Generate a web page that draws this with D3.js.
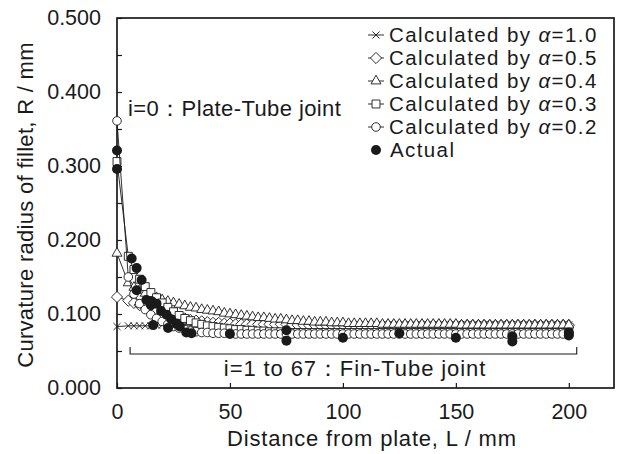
<!DOCTYPE html>
<html><head><meta charset="utf-8">
<script src="https://cdn.jsdelivr.net/npm/d3@7"></script>
<style>
body{margin:0;background:#fff}
svg{display:block}
text{font-family:"Liberation Sans",Arial,Helvetica,sans-serif;fill:#1a1a1a}
</style>
</head><body>
<svg id="chart" width="617" height="454"></svg>
<script>
// Distance from plate L (mm): i=0 plate joint, then fin joints
const distances = [0,
  5,7.5,10,12.5,15,17.5,20,22.5,25,27.5,30,32.5,35,37.5,40,42.5,45,47.5,50,
  52.5,55,57.5,60,62.5,65,67.5,70,72.5,75,77.5,80,82.5,85,87.5,90,92.5,95,97.5,100,
  102.5,105,107.5,110,112.5,115,117.5,120,122.5,125,127.5,130,132.5,135,137.5,140,142.5,145,147.5,150,
  152.5,155,157.5,160,162.5,165,167.5,170,172.5,175,177.5,180,182.5,185,187.5,190,192.5,195,197.5,200];

const calcAlpha10 = [0.083,
  0.084,0.084,0.084,0.084,0.084,0.085,0.085,0.085,0.085,0.085,0.085,0.085,0.085,0.085,0.085,0.085,0.085,0.085,0.085,
  0.085,0.085,0.085,0.085,0.085,0.085,0.085,0.085,0.085,0.085,0.085,0.085,0.085,0.085,0.085,0.085,0.085,0.085,0.085,0.085,
  0.085,0.085,0.085,0.085,0.085,0.085,0.085,0.085,0.085,0.085,0.085,0.085,0.085,0.085,0.085,0.085,0.085,0.085,0.085,0.085,
  0.085,0.085,0.085,0.085,0.085,0.085,0.085,0.085,0.085,0.085,0.085,0.085,0.085,0.085,0.085,0.085,0.085,0.085,0.085,0.085];

const calcAlpha05 = [0.123,
  0.118,0.115,0.112,0.109,0.106,0.104,0.101,0.099,0.097,0.095,0.094,0.092,0.091,0.090,0.089,0.088,0.088,0.087,0.087,
  0.086,0.086,0.086,0.086,0.086,0.086,0.086,0.086,0.086,0.086,0.085,0.085,0.085,0.085,0.085,0.085,0.085,0.085,0.085,0.085,
  0.085,0.085,0.085,0.085,0.085,0.085,0.085,0.085,0.085,0.085,0.085,0.085,0.085,0.085,0.085,0.085,0.085,0.085,0.085,0.085,
  0.085,0.085,0.085,0.085,0.085,0.085,0.085,0.085,0.085,0.085,0.085,0.085,0.085,0.085,0.085,0.085,0.085,0.085,0.085,0.085];

const calcAlpha04 = [0.182,
  0.142,0.136,0.132,0.128,0.125,0.122,0.119,0.117,0.115,0.113,0.111,0.109,0.108,0.106,0.105,0.104,0.103,0.101,0.100,
  0.099,0.098,0.097,0.096,0.095,0.095,0.094,0.093,0.093,0.092,0.091,0.091,0.090,0.090,0.089,0.089,0.089,0.088,0.088,0.088,
  0.087,0.087,0.087,0.087,0.087,0.087,0.086,0.086,0.086,0.086,0.086,0.086,0.086,0.086,0.086,0.086,0.086,0.086,0.086,0.086,
  0.085,0.085,0.085,0.085,0.085,0.085,0.085,0.085,0.085,0.085,0.085,0.085,0.085,0.085,0.085,0.085,0.085,0.085,0.085,0.085];

const calcAlpha03 = [0.306,
  0.178,0.160,0.147,0.137,0.129,0.122,0.115,0.109,0.103,0.098,0.094,0.091,0.088,0.086,0.084,0.083,0.082,0.081,0.080,
  0.079,0.079,0.078,0.078,0.077,0.077,0.076,0.076,0.076,0.075,0.075,0.075,0.075,0.075,0.075,0.075,0.075,0.075,0.075,0.075,
  0.075,0.075,0.075,0.075,0.075,0.075,0.075,0.075,0.075,0.075,0.075,0.075,0.075,0.075,0.075,0.075,0.075,0.075,0.075,0.075,
  0.075,0.075,0.075,0.075,0.075,0.075,0.075,0.075,0.075,0.075,0.075,0.075,0.075,0.075,0.075,0.075,0.075,0.075,0.075,0.075];

const calcAlpha02 = [0.361,
  0.150,0.127,0.114,0.106,0.099,0.094,0.090,0.086,0.083,0.081,0.079,0.077,0.076,0.075,0.075,0.074,0.074,0.074,0.074,
  0.073,0.073,0.073,0.073,0.073,0.073,0.073,0.073,0.073,0.073,0.073,0.073,0.073,0.073,0.073,0.073,0.073,0.073,0.073,0.073,
  0.073,0.073,0.073,0.073,0.073,0.073,0.073,0.073,0.073,0.073,0.073,0.073,0.073,0.073,0.073,0.073,0.073,0.073,0.073,0.073,
  0.073,0.073,0.073,0.073,0.073,0.073,0.073,0.073,0.073,0.073,0.073,0.073,0.073,0.073,0.073,0.073,0.073,0.073,0.073,0.073];

// Actual measurements
const actualL = [0,0,6.5,8.7,10.9,8.7,13,15,17.5,15.5,19.5,22,24,26.3,27.8,22.6,16,30.7,33,50,75,75,100,125,150,175,175,200,200];
const actualR = [0.321,0.296,0.175,0.162,0.146,0.132,0.119,0.112,0.114,0.117,0.104,0.099,0.093,0.087,0.083,0.081,0.085,0.075,0.074,0.073,0.078,0.064,0.068,0.074,0.068,0.070,0.063,0.075,0.071];

const seriesNames = ["Calculated by α=1.0","Calculated by α=0.5","Calculated by α=0.4","Calculated by α=0.3","Calculated by α=0.2"];
const xTickValues = [0,50,100,150,200];
const yTickValues = [0,0.05,0.1,0.15,0.2,0.25,0.3,0.35,0.4,0.45,0.5];

const svg = d3.select("#chart");
const x = d3.scaleLinear().domain([0,220]).range([117,614]);
const y = d3.scaleLinear().domain([0,0.5]).range([388,18]);

// axes
const yAxis = d3.axisLeft(y).tickValues(yTickValues).tickSize(-5).tickPadding(16)
  .tickFormat(d => (Math.round(d*100) % 10 === 0) ? d3.format(".3f")(d) : "");
const gy = svg.append("g").attr("transform",`translate(${x(0)},0)`).call(yAxis);
const xAxis = d3.axisBottom(x).tickValues(xTickValues).tickSize(-5).tickPadding(16).tickFormat(d3.format("d"));
const gx = svg.append("g").attr("transform",`translate(0,${y(0)})`).call(xAxis);
[gx,gy].forEach(g=>{
  g.select(".domain").remove();
  g.selectAll(".tick line").attr("stroke","#1a1a1a").attr("stroke-width",1.2);
  g.selectAll(".tick text").attr("font-size",21.5).attr("fill","#1a1a1a")
    .style("font-family",'"Liberation Sans",Arial,sans-serif');
});

// frame
svg.append("rect").attr("x",x(0)).attr("y",y(0.5)).attr("width",x(220)-x(0)).attr("height",y(0)-y(0.5))
  .attr("fill","none").attr("stroke","#1a1a1a").attr("stroke-width",1.7);

// series
const symbols = [
  d3.symbol(d3.symbolTimes, 34),
  d3.symbol(d3.symbolDiamond2, 80),
  d3.symbol(d3.symbolTriangle2, 72),
  d3.symbol(d3.symbolSquare2, 80),
  d3.symbol(d3.symbolCircle, 58)
];
const calcSeries = [calcAlpha10, calcAlpha05, calcAlpha04, calcAlpha03, calcAlpha02];
const line = d3.line().x((d,i)=>x(distances[i])).y(d=>y(d));
calcSeries.forEach((vals,k)=>{
  const g = svg.append("g");
  g.append("path").attr("d", line(vals)).attr("fill","none").attr("stroke","#1a1a1a").attr("stroke-width",0.9);
  g.selectAll("path.m").data(vals).join("path").attr("class","m")
    .attr("transform",(d,i)=>`translate(${x(distances[i])},${y(d)})`)
    .attr("d", symbols[k]())
    .attr("fill","#fff").attr("stroke","#1a1a1a").attr("stroke-width",0.9);
});
svg.append("g").selectAll("circle").data(actualR).join("circle")
  .attr("cx",(d,i)=>x(actualL[i])).attr("cy",d=>y(d)).attr("r",5).attr("fill","#1a1a1a");

// legend
const legY = [35,58,81,104,127,150];
const legFont = 20.5, legSpacing = 1.4;
seriesNames.forEach((name,k)=>{
  const g = svg.append("g").attr("transform",`translate(376,${legY[k]})`);
  g.append("line").attr("x1",-8).attr("x2",8).attr("stroke","#1a1a1a").attr("stroke-width",0.9);
  g.append("path").attr("d",symbols[k]()).attr("fill","#fff").attr("stroke","#1a1a1a").attr("stroke-width",0.9);
  const t = g.append("text").attr("x",13).attr("dy","0.36em").attr("font-size",legFont).attr("letter-spacing",legSpacing);
  const parts = name.split("α");
  t.append("tspan").text(parts[0]);
  t.append("tspan").attr("font-style","italic").text("α");
  t.append("tspan").text(parts[1]);
});
{
  const g = svg.append("g").attr("transform",`translate(376,${legY[5]})`);
  g.append("circle").attr("r",5).attr("fill","#1a1a1a");
  g.append("text").attr("x",14).attr("dy","0.36em").attr("font-size",legFont).attr("letter-spacing",legSpacing).text("Actual");
}

// annotations
svg.append("text").attr("x",128).attr("y",116).attr("font-size",22).attr("letter-spacing",0.4).text("i=0：Plate-Tube joint");
const bx0 = x(5.8), bx1 = x(203.5), by = 354;
svg.append("path").attr("d",`M${bx0},${by-7}V${by}H${bx1}V${by-7}`)
  .attr("fill","none").attr("stroke","#1a1a1a").attr("stroke-width",1.1);
svg.append("text").attr("x",355).attr("y",376).attr("text-anchor","middle").attr("font-size",22).attr("letter-spacing",0.9)
  .text("i=1 to 67：Fin-Tube joint");

// axis titles
svg.append("text").attr("x",372).attr("y",446).attr("text-anchor","middle").attr("font-size",22).attr("letter-spacing",0.8)
  .text("Distance from plate, L / mm");
svg.append("text").attr("transform","translate(33,205) rotate(-90)").attr("text-anchor","middle").attr("font-size",22).attr("letter-spacing",0.3)
  .text("Curvature radius of fillet, R / mm");
</script>
</body></html>
